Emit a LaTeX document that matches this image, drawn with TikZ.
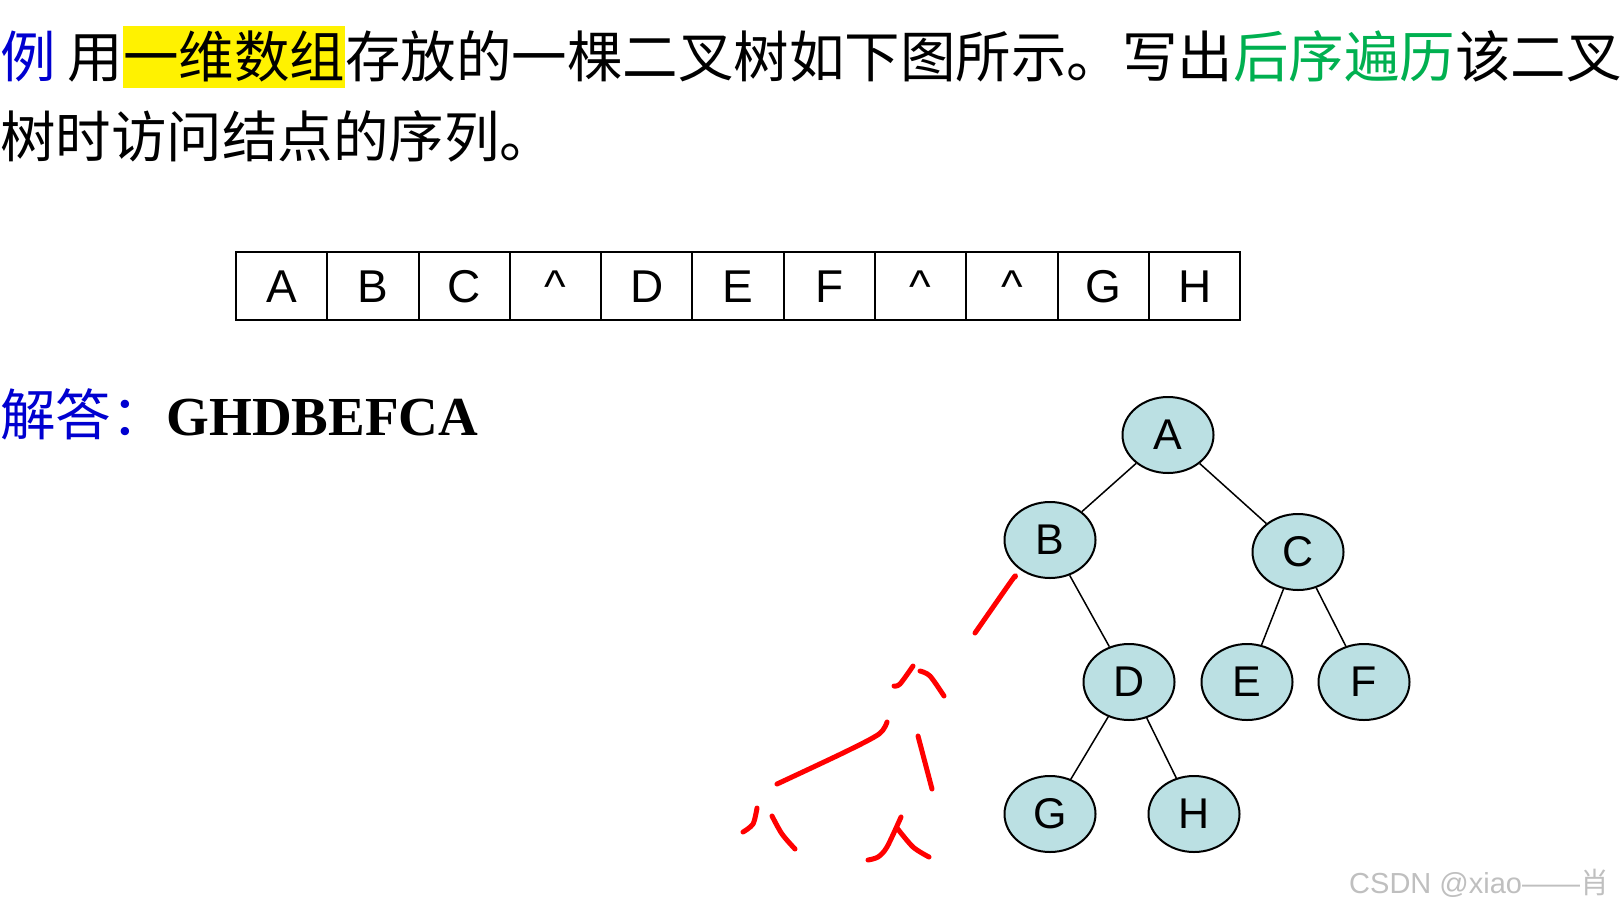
\documentclass[tikz,border=0pt]{standalone}
\usepackage{fontspec}
\usepackage{xcolor}
\usepackage{tikz}
\usetikzlibrary{positioning,shapes.geometric}
\newfontfamily\cjk{Noto Sans CJK SC}
\newfontfamily\sansf{Liberation Sans}
\newfontfamily\seriff{Liberation Serif}
\definecolor{qblue}{HTML}{0000D0}
\definecolor{qgreen}{HTML}{00B050}
\definecolor{nodefill}{HTML}{BBE0E3}

\begin{document}
\begin{tikzpicture}[x=1pt,y=-1pt,
  txt/.style={inner sep=0,outer sep=0,text height=51pt,text depth=11pt,
              font=\cjk\fontsize{55.5}{55.5}\selectfont},
  cell/.style={draw,line width=2pt,inner sep=0,outer sep=0,minimum width=91.3pt,
               minimum height=68pt,text height=33pt,text depth=0pt,
               font=\sansf\fontsize{46}{46}\selectfont},
  nd/.style={ellipse,draw,line width=2pt,fill=nodefill,minimum width=91pt,
             minimum height=76pt,inner sep=0,font=\sansf\fontsize{43}{43}\selectfont},
  pen/.style={red,line width=5pt,line cap=round,line join=round}
]
  \useasboundingbox (0,0) rectangle (1621,911);

  % question
  \node[txt,text=qblue,anchor=base west] (li) at (0,77) {例};
  \node[txt,right=12pt of li] (yong) {用};
  \node[txt,fill=yellow,right=0pt of yong] (hl) {一维数组};
  \node[txt,right=0pt of hl] (mid) {存放的一棵二叉树如下图所示。写出};
  \node[txt,text=qgreen,right=0pt of mid] (post) {后序遍历};
  \node[txt,right=0pt of post] (tail) {该二叉};
  \node[txt,anchor=base west] (line2) at (0,157) {树时访问结点的序列。};

  % array
  \node[cell] (c1) at (281.6,286) {A};
  \foreach \v [count=\i from 2, remember=\i as \j (initially 1)] in
      {B,C,\textasciicircum,D,E,F,\textasciicircum,\textasciicircum,G,H}
    \node[cell,right=0pt of c\j] (c\i) {\v};

  % answer
  \node[txt,text=qblue,anchor=base west] (jd) at (0,435) {解答：};
  \node[anchor=base west,inner sep=0,font=\seriff\bfseries\fontsize{55}{55}\selectfont]
    (ans) at (jd.base east) {GHDBEFCA};

  % tree
  \node[nd] (A) at (1168,435) {A};
  \node[nd] (B) at (1050,540) {B};
  \node[nd] (C) at (1298,552) {C};
  \node[nd] (D) at (1129,682) {D};
  \node[nd] (E) at (1247,682) {E};
  \node[nd] (F) at (1364,682) {F};
  \node[nd] (G) at (1050,814) {G};
  \node[nd] (H) at (1194,814) {H};
  \draw[line width=1.5pt] (A)--(B) (A)--(C) (B)--(D) (C)--(E) (C)--(F) (D)--(G) (D)--(H);

  % red pen marks
  \draw[pen] plot[smooth] coordinates {(1015,577) (1012,580) (975,633)};
  \draw[pen] plot[smooth] coordinates {(894,686) (900,684) (913,666)};
  \draw[pen] plot[smooth] coordinates {(920,671) (930,676) (944,696)};
  \draw[pen] plot[smooth] coordinates {(887,722) (879,734) (845,752) (777,784)};
  \draw[pen] (918,736) -- (932,789);
  \draw[pen] plot[smooth] coordinates {(757,808) (753,824) (743,832)};
  \draw[pen] plot[smooth] coordinates {(772,816) (782,834) (795,849)};
  \draw[pen] plot[smooth] coordinates {(901,817) (887,847) (878,857) (868,860)};
  \draw[pen] plot[smooth] coordinates {(897,828) (913,847) (929,857)};

  \node[anchor=base west,inner sep=0,text=black!25,font=\sansf\fontsize{29}{29}\selectfont]
    (wm) at (1349,893) {CSDN @xiao——{\cjk 肖}};
\end{tikzpicture}
\end{document}
